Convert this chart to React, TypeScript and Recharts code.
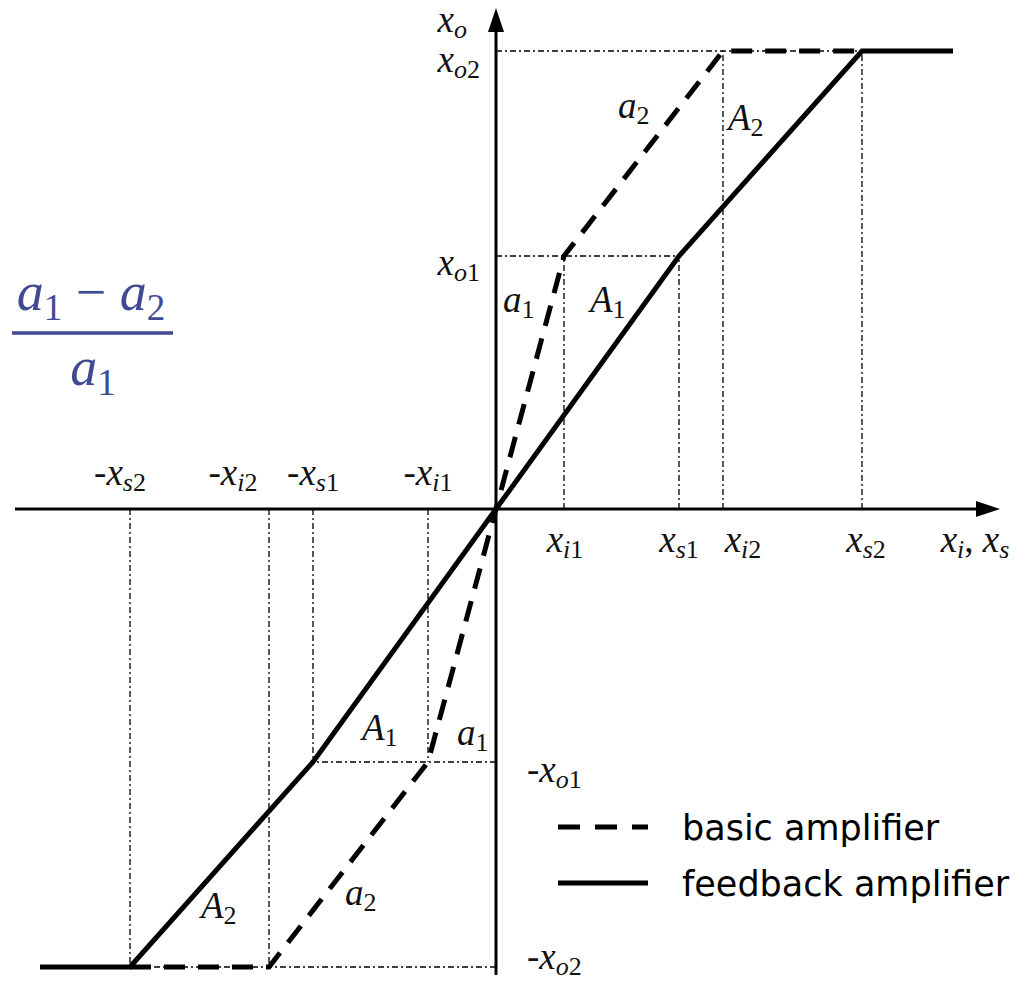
import React from 'react';
import { LineChart, Line, XAxis, YAxis, ReferenceLine, ReferenceDot, Legend } from 'recharts';

// Input break points: x_i1, x_s1, x_i2, x_s2
const inputBreaks = [68, 183, 227, 366];
// Output levels: x_o1, x_o2
const outputLevels = [253, 458];

// Basic amplifier: open-loop characteristic (gain a1, then a2, then clipping)
const basicAmplifier = [
  [-366, -458], [-227, -458], [-68, -253], [0, 0], [68, 253], [227, 458], [366, 458],
];
// Feedback amplifier: closed-loop characteristic (gain A1, then A2, then clipping)
const feedbackAmplifier = [
  [-456, -458], [-366, -458], [-183, -253], [0, 0], [183, 253], [366, 458], [457, 458],
];

const seriesNames = ['basic amplifier', 'feedback amplifier'];

const [xi1, xs1, xi2, xs2] = inputBreaks;
const [xo1, xo2] = outputLevels;

const toPoints = (rows: number[][]) => rows.map(([x, y]) => ({ x, y }));

// Dash-dot construction lines
const guides: [number, number, number, number][] = [
  [0, xo2, xs2, xo2], [xi2, 0, xi2, xo2], [xs2, 0, xs2, xo2],
  [0, xo1, xs1, xo1], [xi1, 0, xi1, xo1], [xs1, 0, xs1, xo1],
  [0, -xo2, -xs2, -xo2], [-xi2, 0, -xi2, -xo2], [-xs2, 0, -xs2, -xo2],
  [0, -xo1, -xs1, -xo1], [-xi1, 0, -xi1, -xo1], [-xs1, 0, -xs1, -xo1],
];

// Axis extents and arrow tips
const xAxisStart = -481;
const xAxisTip = 504;
const yAxisStart = -466;
const yAxisTip = 501;

type MathLabel = { tex: string; x: number; y: number; dx: number; dy: number; anchor: 'start' | 'middle' | 'end' };

const mathLabels: MathLabel[] = [
  // output axis
  { tex: 'x_{o}', x: 0, y: yAxisTip, dx: -29, dy: 24, anchor: 'end' },
  { tex: 'x_{o2}', x: 0, y: xo2, dx: -16, dy: 21, anchor: 'end' },
  { tex: 'x_{o1}', x: 0, y: xo1, dx: -16, dy: 19, anchor: 'end' },
  { tex: '-x_{o1}', x: 0, y: -xo1, dx: 31, dy: 20, anchor: 'start' },
  { tex: '-x_{o2}', x: 0, y: -xo2, dx: 31, dy: 2, anchor: 'start' },
  // input axis, positive side
  { tex: 'x_{i1}', x: xi1, y: 0, dx: 1, dy: 43, anchor: 'middle' },
  { tex: 'x_{s1}', x: xs1, y: 0, dx: 0, dy: 43, anchor: 'middle' },
  { tex: 'x_{i2}', x: xi2, y: 0, dx: 20, dy: 43, anchor: 'middle' },
  { tex: 'x_{s2}', x: xs2, y: 0, dx: 4, dy: 43, anchor: 'middle' },
  { tex: 'x_{i}, x_{s}', x: xAxisTip, y: 0, dx: -25, dy: 43, anchor: 'middle' },
  // input axis, negative side
  { tex: '-x_{s2}', x: -xs2, y: 0, dx: -10, dy: -24, anchor: 'middle' },
  { tex: '-x_{i2}', x: -xi2, y: 0, dx: -36, dy: -24, anchor: 'middle' },
  { tex: '-x_{s1}', x: -xs1, y: 0, dx: 0, dy: -24, anchor: 'middle' },
  { tex: '-x_{i1}', x: -xi1, y: 0, dx: 0, dy: -24, anchor: 'middle' },
  // gain of each segment
  { tex: 'a_{2}', x: 122, y: 391, dx: 0, dy: 0, anchor: 'start' },
  { tex: 'A_{2}', x: 232, y: 379, dx: 0, dy: 0, anchor: 'start' },
  { tex: 'a_{1}', x: 7, y: 197, dx: 0, dy: 0, anchor: 'start' },
  { tex: 'A_{1}', x: 94, y: 197, dx: 0, dy: 0, anchor: 'start' },
  { tex: 'A_{1}', x: -134, y: -231, dx: 0, dy: 0, anchor: 'start' },
  { tex: 'a_{1}', x: -39, y: -236, dx: 0, dy: 0, anchor: 'start' },
  { tex: 'A_{2}', x: -295, y: -409, dx: 0, dy: 0, anchor: 'start' },
  { tex: 'a_{2}', x: -151, y: -396, dx: 0, dy: 0, anchor: 'start' },
];

type Tok = { t: string; sub: boolean };

function parseTex(tex: string): Tok[] {
  const out: Tok[] = [];
  let i = 0;
  while (i < tex.length) {
    if (tex.startsWith('_{', i)) {
      const end = tex.indexOf('}', i);
      for (const ch of tex.slice(i + 2, end)) out.push({ t: ch, sub: true });
      i = end + 1;
    } else {
      out.push({ t: tex[i], sub: false });
      i += 1;
    }
  }
  return out;
}

function mathSpans(tex: string, size: number, subSize: number, shift: number) {
  let cur = 0;
  return parseTex(tex).map((tok, k) => {
    const target = tok.sub ? shift : 0;
    const dy = target - cur;
    cur = target;
    const italic = /[a-zA-Z]/.test(tok.t);
    return (
      <tspan key={k} dy={dy || undefined} fontSize={tok.sub ? subSize : size} fontStyle={italic ? 'italic' : 'normal'}>
        {tok.t === ' ' ? '\u00a0' : tok.t}
      </tspan>
    );
  });
}

const SERIF = 'Liberation Serif, Tinos, DejaVu Serif, Noto Serif, serif';
const FORMULA_COLOR = '#3f4a93';

const labelShape = (lab: MathLabel) => (p: any) => (
  <text
    x={p.cx + lab.dx}
    y={p.cy + lab.dy}
    textAnchor={lab.anchor}
    style={{ fontFamily: SERIF }}
    fill="#111"
  >
    {mathSpans(lab.tex, 37, 26, 6)}
  </text>
);

const xArrow = (p: any) => (
  <polygon points={`${p.cx},${p.cy} ${p.cx - 24},${p.cy - 8} ${p.cx - 24},${p.cy + 8}`} fill="#000" />
);
const yArrow = (p: any) => (
  <polygon points={`${p.cx},${p.cy} ${p.cx - 8},${p.cy + 24} ${p.cx + 8},${p.cy + 24}`} fill="#000" />
);

// Fraction (a1 - a2) / a1 written at the left edge
const formulaShape = (p: any) => (
  <g fill={FORMULA_COLOR} style={{ fontFamily: SERIF }}>
    <line x1={p.cx - 80} y1={p.cy} x2={p.cx + 81} y2={p.cy} stroke={FORMULA_COLOR} strokeWidth={3.5} />
    <text x={p.cx - 1} y={p.cy - 23} textAnchor="middle">
      {mathSpans('a_{1} \u2212 a_{2}', 54, 37, 10)}
    </text>
    <text x={p.cx + 1} y={p.cy + 52} textAnchor="middle">
      {mathSpans('a_{1}', 54, 37, 10)}
    </text>
  </g>
);

const dashedSeries: Record<string, boolean> = {
  'basic amplifier': true,
  'feedback amplifier': false,
};

const LegendContent = (props: any) => {
  const payload = (props.payload || []) as any[];
  return (
    <svg width={478} height={120} style={{ display: 'block' }}>
      {payload.map((entry, i) => {
        const y = 27 + i * 56;
        const dashed = dashedSeries[entry.value];
        return (
          <g key={entry.value}>
            <line x1={8} y1={y} x2={98} y2={y} stroke="#000" strokeWidth={5} strokeDasharray={dashed ? '22 15' : undefined} />
            <text x={132} y={y + 13} style={{ fontFamily: 'DejaVu Sans, Verdana, sans-serif' }} fontSize={35} fill="#000">
              {entry.value}
            </text>
          </g>
        );
      })}
    </svg>
  );
};

export default function App() {
  return (
    <div style={{ position: 'absolute', left: 0, top: 0, width: 1028, height: 982, background: '#fff' }}>
      <LineChart width={1028} height={982} margin={{ top: 0, right: 0, bottom: 0, left: 0 }}>
        <XAxis type="number" dataKey="x" domain={[-496, 532]} hide allowDataOverflow />
        <YAxis type="number" dataKey="y" domain={[-473, 509]} hide allowDataOverflow />

        {guides.map(([x1, y1, x2, y2], i) => (
          <ReferenceLine
            key={`g${i}`}
            segment={[{ x: x1, y: y1 }, { x: x2, y: y2 }]}
            stroke="#000"
            strokeWidth={1.3}
            strokeDasharray="6 3 2 3"
          />
        ))}

        <ReferenceLine segment={[{ x: xAxisStart, y: 0 }, { x: xAxisTip - 10, y: 0 }]} stroke="#000" strokeWidth={3} />
        <ReferenceLine segment={[{ x: 0, y: yAxisStart }, { x: 0, y: yAxisTip - 10 }]} stroke="#000" strokeWidth={3} />
        <ReferenceDot x={xAxisTip} y={0} r={1} shape={xArrow} />
        <ReferenceDot x={0} y={yAxisTip} r={1} shape={yArrow} />

        <Line
          data={toPoints(basicAmplifier)}
          dataKey="y"
          name={seriesNames[0]}
          type="linear"
          stroke="#000"
          strokeWidth={5}
          strokeDasharray="21 13"
          dot={false}
          activeDot={false}
          isAnimationActive={false}
        />
        <Line
          data={toPoints(feedbackAmplifier)}
          dataKey="y"
          name={seriesNames[1]}
          type="linear"
          stroke="#000"
          strokeWidth={5}
          dot={false}
          activeDot={false}
          isAnimationActive={false}
        />

        {mathLabels.map((lab, i) => (
          <ReferenceDot key={`l${i}`} x={lab.x} y={lab.y} r={1} shape={labelShape(lab)} />
        ))}
        <ReferenceDot x={-404} y={176} r={1} shape={formulaShape} />

        <Legend
          layout="horizontal"
          verticalAlign="middle"
          align="center"
          wrapperStyle={{ left: 550, top: 800, width: 478, height: 120 }}
          content={LegendContent}
        />
      </LineChart>
    </div>
  );
}
